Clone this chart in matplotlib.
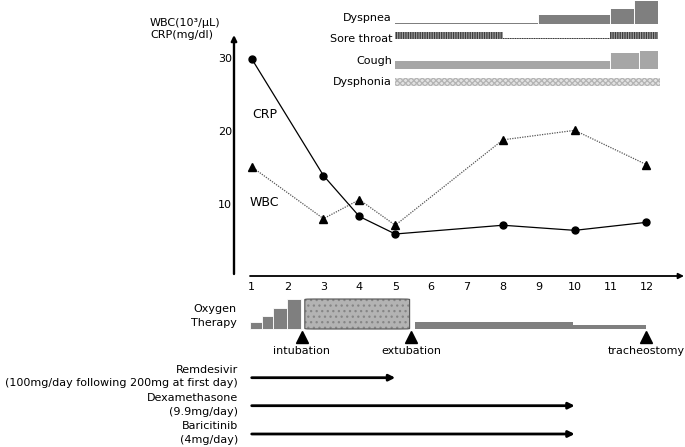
import matplotlib
matplotlib.use('Agg')
import matplotlib.pyplot as plt
from matplotlib.patches import Rectangle, FancyBboxPatch

plt.rcParams['font.family'] = ['DejaVu Sans']
plt.rcParams['hatch.linewidth'] = 0.9

# ---------------- data ----------------
days = [1, 3, 4, 5, 8, 10, 12]
crp = [30.0, 14.0, 8.4, 6.0, 7.2, 6.5, 7.6]
wbc = [15.2, 8.1, 10.7, 7.2, 18.9, 20.2, 15.5]
x_ticks = list(range(1, 13))
y_ticks = [10, 20, 30]

# symptom mini-timeline (start day, end day, intensity)
dysp_start = [1, 7, 10, 11]
dysp_end = [7, 10, 11, 12]
dysp_level = [1.3, 9, 15, 23.3]
sore_start = [1, 5.5, 10]
sore_end = [5.5, 10, 12]
sore_level = [7, 1.5, 7]
cough_start = [1, 10, 11.2]
cough_end = [10, 11.2, 12]
cough_level = [8, 15.7, 18]
dysph_start = [1]
dysph_end = [12.1]
dysph_level = [8]
symptom_names = ['Dyspnea', 'Sore throat', 'Cough', 'Dysphonia']

# oxygen therapy
oxy_start = [0.95, 1.28, 1.6, 1.97]
oxy_end = [1.28, 1.6, 1.97, 2.37]
oxy_level = [7.3, 13, 20.7, 30]
vent_start, vent_end = 2.48, 5.40
post_start = [5.54, 9.94]
post_end = [9.94, 11.98]
post_level = [7.5, 3.6]
events = ['intubation', 'extubation', 'tracheostomy']
event_day = [2.4, 5.45, 12.0]

# drugs
drug_names = ['Remdesivir', 'Dexamethasone', 'Baricitinib']
drug_doses = ['(100mg/day following 200mg at first day)', '(9.9mg/day)', '(4mg/day)']
drug_start = [1, 1, 1]
drug_end = [5, 10, 10]

# ---------------- layout ----------------
W, H = 685, 447
X0, DX = 251.7, 35.89   # pixel of day 1, px per day
Y0, DY = 277.8, 7.3     # pixel of value 0, px per unit


def xp(px):
    return 1 + (px - X0) / DX


def yp(px):
    return (Y0 - px) / DY


fig = plt.figure(figsize=(W / 100, H / 100), dpi=100)
ax = fig.add_axes([0, 0, 1, 1])
ax.set_xlim(xp(0), xp(W))
ax.set_ylim(yp(H), yp(0))
ax.axis('off')

FS = 8

# axes arrows
ax.annotate('', xy=(xp(684), yp(276)), xytext=(xp(250), yp(276)),
            arrowprops=dict(arrowstyle='-|>', lw=1.3, color='black',
                            mutation_scale=8, shrinkA=0, shrinkB=0))
ax.annotate('', xy=(xp(234), yp(35)), xytext=(xp(234), yp(274)),
            arrowprops=dict(arrowstyle='-|>', lw=1.7, color='black',
                            mutation_scale=8, shrinkA=0, shrinkB=0))
for d in x_ticks:
    ax.text(d, yp(287.5), str(d), ha='center', va='center', fontsize=FS)
for v in y_ticks:
    ax.text(xp(232), v, str(v), ha='right', va='center', fontsize=FS)
ax.text(xp(150), yp(22.7), 'WBC(10³/μL)', ha='left', va='center', fontsize=FS)
ax.text(xp(150), yp(35.5), 'CRP(mg/dl)', ha='left', va='center', fontsize=FS)

# series
ax.plot(days, wbc, linestyle=(0, (1, 1)), color='#555555', lw=0.9,
        marker='^', ms=5.5, mfc='black', mec='black', zorder=3)
ax.plot(days, crp, '-', color='black', lw=0.9, marker='o', ms=5, zorder=4)
ax.text(xp(252), yp(115), 'CRP', ha='left', va='center', fontsize=FS + 1)
ax.text(xp(250), yp(202), 'WBC', ha='left', va='center', fontsize=FS + 1)

# symptoms
sx = fig.add_axes([395 / W, 1 - 90 / H, 263 / W, 90 / H])
sx.set_xlim(1, 12)
sx.set_ylim(90, 0)
sx.axis('off')
rows = [
    (dysp_start, dysp_end, dysp_level, 24.0,
     dict(facecolor='#7f7f7f', edgecolor='#7f7f7f', lw=0), '#7f7f7f'),
    (sore_start, sore_end, sore_level, 39.0,
     dict(facecolor='#a0a0a0', edgecolor='#3c3c3c', hatch='|||||||', lw=0), None),
    (cough_start, cough_end, cough_level, 69.0,
     dict(facecolor='#a6a6a6', edgecolor='#a6a6a6', lw=0), '#a6a6a6'),
    (dysph_start, dysph_end, dysph_level, 85.7,
     dict(facecolor='#e3e3e3', edgecolor='#b4b4b4', hatch='xxxxxx', lw=0), None),
]
for starts, ends, levels, base, style, _ in rows:
    for s, e, h in zip(starts, ends, levels):
        sx.add_patch(Rectangle((s, base - h), e - s, h, clip_on=False, **style))
# white separators between steps of solid rows
for starts, ends, levels, base, style, col in rows:
    if col is None:
        continue
    for s, h in zip(starts[1:], levels[1:]):
        sx.plot([s, s], [base, base - h], color='white', lw=0.7, clip_on=False)
label_y = [18.3, 39.0, 60.8, 82.0]
for name, ly in zip(symptom_names, label_y):
    ax.text(xp(392), yp(ly), name, ha='right', va='center', fontsize=FS)

# oxygen therapy
base = 329.0
for s, e, h in zip(oxy_start, oxy_end, oxy_level):
    ax.add_patch(Rectangle((s, yp(base)), e - s, h / DY,
                           facecolor='#7f7f7f', edgecolor='white', lw=0.6))
ax.add_patch(FancyBboxPatch((vent_start, yp(base)), vent_end - vent_start, 30 / DY,
                            boxstyle='round,pad=0,rounding_size=0.25',
                            mutation_aspect=1 / 4.9,
                            facecolor='#b3b3b3', edgecolor='#858585', hatch='...',
                            lw=0))
ax.add_patch(FancyBboxPatch((vent_start, yp(base)), vent_end - vent_start, 30 / DY,
                            boxstyle='round,pad=0,rounding_size=0.25',
                            mutation_aspect=1 / 4.9,
                            facecolor='none', edgecolor='#555555', lw=0.8))
for s, e, h in zip(post_start, post_end, post_level):
    ax.add_patch(Rectangle((s, yp(base)), e - s, h / DY,
                           facecolor='#7f7f7f', edgecolor='#7f7f7f', lw=0))
ax.text(xp(237), yp(309.3), 'Oxygen', ha='right', va='center', fontsize=FS)
ax.text(xp(237), yp(323.3), 'Therapy', ha='right', va='center', fontsize=FS)
for name, d in zip(events, event_day):
    ax.plot([d], [yp(336.5)], marker='^', ms=8, color='black', ls='none')
    ax.text(d, yp(351.5), name, ha='center', va='center', fontsize=FS)

# drugs
name_y = [370.0, 397.7, 426.0]
dose_y = [383.3, 411.7, 440.0]
arrow_y = [377.7, 405.7, 434.0]
for name, dose, s, e, ny, dy, ay in zip(drug_names, drug_doses, drug_start, drug_end,
                                         name_y, dose_y, arrow_y):
    ax.text(xp(238), yp(ny), name, ha='right', va='center', fontsize=FS)
    ax.text(xp(238), yp(dy), dose, ha='right', va='center', fontsize=FS)
    ax.annotate('', xy=(e, yp(ay)), xytext=(s, yp(ay)),
                arrowprops=dict(arrowstyle='-|>', lw=2.0, color='black',
                                mutation_scale=9, shrinkA=0, shrinkB=0))

fig.savefig('out.png', dpi=100)
